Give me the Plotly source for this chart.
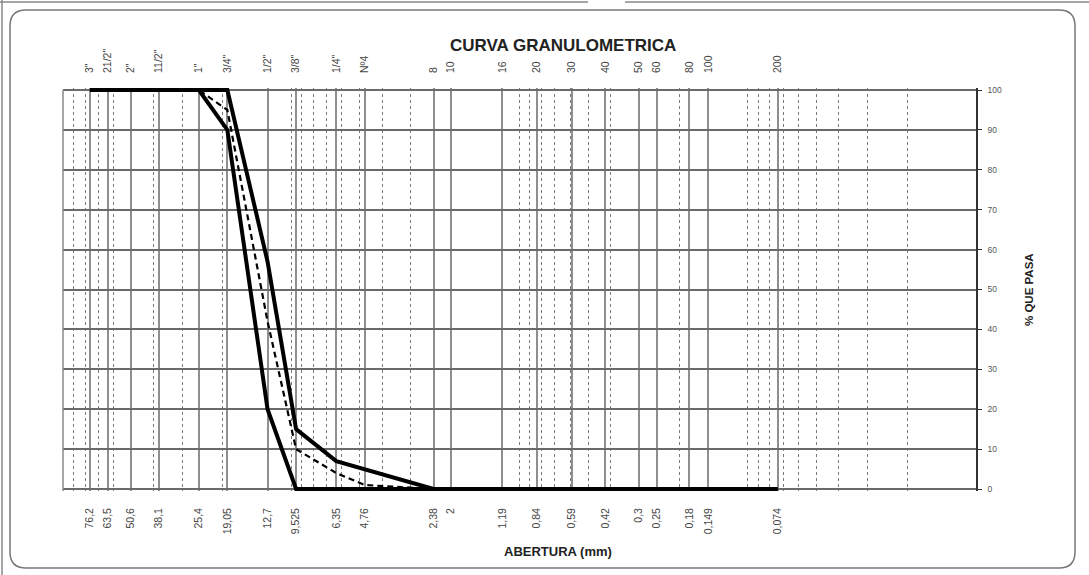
import plotly.graph_objects as go

# Sieve openings (mm) and names
aberturas = [76.2, 63.5, 50.6, 38.1, 25.4, 19.05, 12.7, 9.525, 6.35, 4.76, 2.38, 2,
             1.19, 0.84, 0.59, 0.42, 0.3, 0.25, 0.18, 0.149, 0.074]
abertura_txt = ["76,2", "63,5", "50,6", "38,1", "25,4", "19,05", "12,7", "9,525", "6,35",
                "4,76", "2,38", "2", "1,19", "0,84", "0,59", "0,42", "0,3", "0,25",
                "0,18", "0,149", "0,074"]
tamices = ['3"', '21/2"', '2"', '11/2"', '1"', '3/4"', '1/2"', '3/8"', '1/4"', 'Nº4',
           '8', '10', '16', '20', '30', '40', '50', '60', '80', '100', '200']

# % que pasa
lim_inf = [100, 100, 100, 100, 100, 90, 20, 0, 0, 0, 0, 0, 0, 0, 0, 0, 0, 0, 0, 0, 0]
lim_sup = [100, 100, 100, 100, 100, 100, 57, 15, 7, 5, 0, 0, 0, 0, 0, 0, 0, 0, 0, 0, 0]
muestra = [100, 100, 100, 100, 100, 95, 42, 10, 4, 1, 0, 0, 0, 0, 0, 0, 0, 0, 0, 0, 0]

y_ticks = list(range(0, 101, 10))
minor_vals = [d * 10 ** n for n in range(-2, 2) for d in range(1, 10)] + [100]

FONT = "Liberation Sans, Arial, sans-serif"

fig = go.Figure()
fig.add_trace(go.Scatter(x=aberturas, y=lim_sup, mode="lines",
                         line=dict(color="black", width=4), hoverinfo="skip"))
fig.add_trace(go.Scatter(x=aberturas, y=lim_inf, mode="lines",
                         line=dict(color="black", width=4), hoverinfo="skip"))
fig.add_trace(go.Scatter(x=aberturas, y=muestra, mode="lines",
                         line=dict(color="black", width=2.2, dash="6px,4px"), hoverinfo="skip"))
# invisible trace to anchor the top axis
fig.add_trace(go.Scatter(x=aberturas, y=[0] * len(aberturas), xaxis="x2", mode="markers",
                         marker=dict(opacity=0), hoverinfo="skip"))

# plot area in pixels: x 63..976, y 88..491
L, R, T, B = 63, 976, 88, 491
W, H = R - L, B - T
def px(x):
    return (x - L) / W
def py(y):
    return (B - y) / H

fig.update_layout(
    width=1089, height=575,
    margin=dict(l=L, r=1089 - R, t=T, b=575 - B),
    paper_bgcolor="white", plot_bgcolor="white",
    showlegend=False,
    font=dict(family=FONT, color="#333"),
    xaxis=dict(
        type="log", range=[2, -2], tickmode="array", tickvals=aberturas,
        ticktext=abertura_txt, tickangle=-90, tickfont=dict(size=10.5, color="#444"),
        ticks="", ticklabelstandoff=14,
        showgrid=True, gridcolor="#8f8f8f", gridwidth=1.6,
        minor=dict(tickvals=minor_vals, showgrid=True, gridcolor="#7a7a7a",
                   griddash="dot", gridwidth=1.1),
        showline=False, zeroline=False,
    ),
    xaxis2=dict(
        type="log", range=[2, -2], overlaying="x", side="top", anchor="y",
        tickmode="array", tickvals=aberturas, ticktext=tamices, tickangle=-90,
        tickfont=dict(size=10.5, color="#444"), ticks="", ticklabelstandoff=14,
        showgrid=False, showline=False, zeroline=False,
    ),
    yaxis=dict(
        range=[-0.5, 100.5], side="right", tickmode="array", tickvals=y_ticks,
        tickfont=dict(size=8.5, color="#555"), ticks="outside", ticklen=4,
        tickcolor="#333", showline=True, linecolor="#333", linewidth=1.5,
        showgrid=True, gridcolor="#6a6a6a", gridwidth=2, zeroline=False,
        ticklabelstandoff=4,
    ),
)

# left border of plot area
fig.add_shape(type="line", xref="paper", yref="paper", x0=0, x1=0, y0=py(B), y1=py(T + 2),
              line=dict(color="#8a8a8a", width=1.5))

# rounded outer frame
x0, x1 = px(10), px(1075)
y0, y1 = py(568), py(10)
rx, ry = 16 / W, 16 / H
path = (f"M {x0 + rx},{y1} L {x1 - rx},{y1} Q {x1},{y1} {x1},{y1 - ry} "
        f"L {x1},{y0 + ry} Q {x1},{y0} {x1 - rx},{y0} L {x0 + rx},{y0} "
        f"Q {x0},{y0} {x0},{y0 + ry} L {x0},{y1 - ry} Q {x0},{y1} {x0 + rx},{y1} Z")
fig.add_shape(type="path", xref="paper", yref="paper", path=path,
              line=dict(color="#777", width=1.5))

# document lines at top/left edge
fig.add_shape(type="line", xref="paper", yref="paper", x0=px(0), x1=px(588), y0=py(2), y1=py(2),
              line=dict(color="#888", width=1.5))
fig.add_shape(type="line", xref="paper", yref="paper", x0=px(625), x1=px(1089), y0=py(2), y1=py(2),
              line=dict(color="#888", width=1.5))
fig.add_shape(type="line", xref="paper", yref="paper", x0=px(2), x1=px(2), y0=py(575), y1=py(0),
              line=dict(color="#888", width=1.5))

fig.add_annotation(text="<b>CURVA GRANULOMETRICA</b>", xref="paper", yref="paper",
                   x=px(563), y=py(45), showarrow=False, xanchor="center", yanchor="middle",
                   font=dict(size=17, color="#222", family=FONT))
fig.add_annotation(text="<b>ABERTURA (mm)</b>", xref="paper", yref="paper",
                   x=px(558), y=py(551), showarrow=False, xanchor="center", yanchor="middle",
                   font=dict(size=13, color="#222", family=FONT))
fig.add_annotation(text="<b>% QUE PASA</b>", xref="paper", yref="paper",
                   x=px(1029), y=py(290), showarrow=False, textangle=-90,
                   xanchor="center", yanchor="middle",
                   font=dict(size=11.5, color="#222", family=FONT))

fig.write_html("out.html", config={"displayModeBar": False},
               post_script="document.body.style.margin='0';document.body.style.overflow='hidden';")
